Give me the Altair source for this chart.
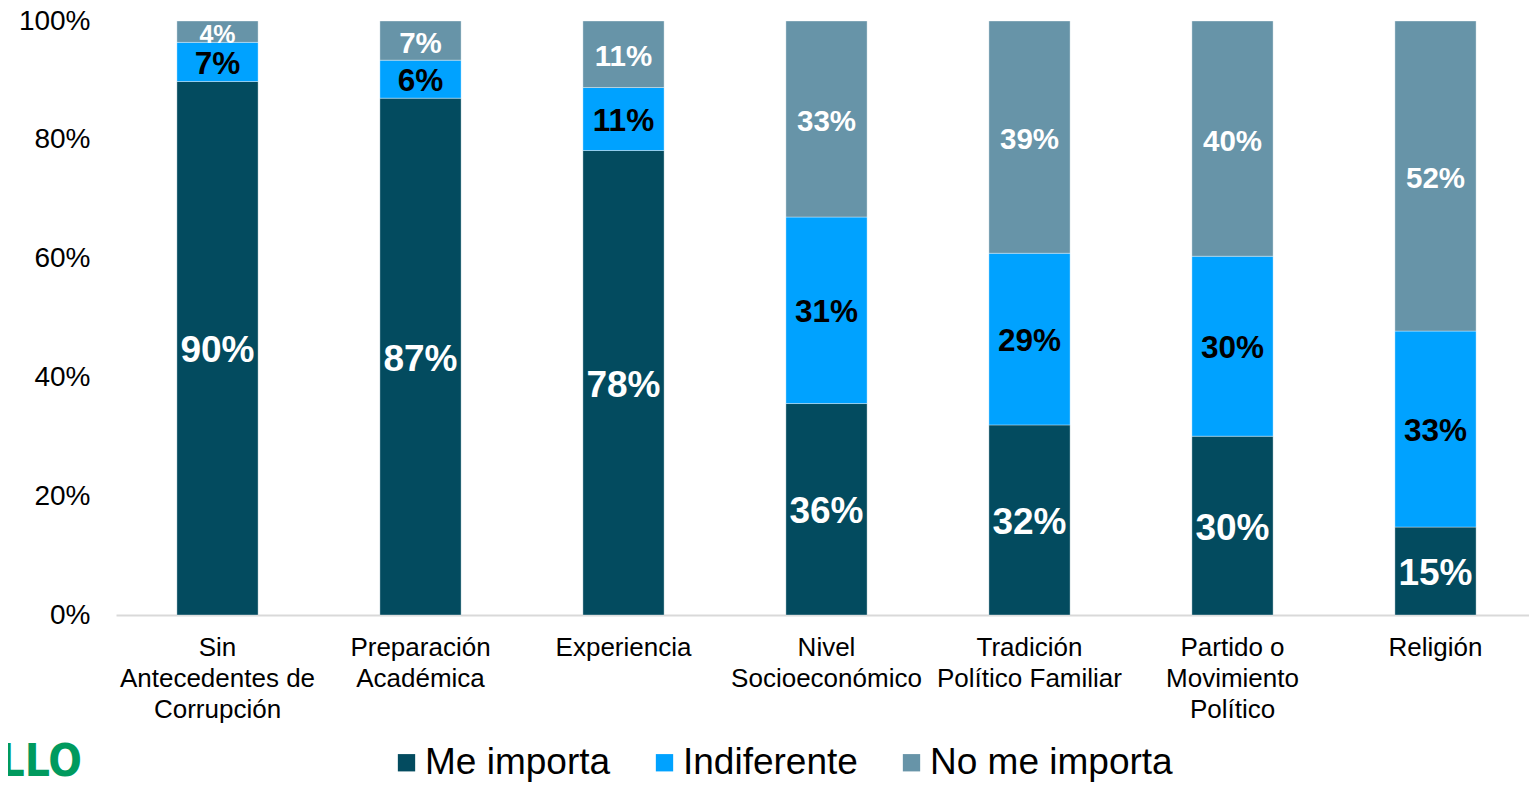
import altair as alt
import pandas as pd

categories = [
    "Sin|Antecedentes de|Corrupción",
    "Preparación|Académica",
    "Experiencia",
    "Nivel|Socioeconómico",
    "Tradición|Político Familiar",
    "Partido o|Movimiento|Político",
    "Religión",
]
series = ["Me importa", "Indiferente", "No me importa"]
me_importa = [89.9, 87.1, 78.2, 35.6, 32.0, 30.1, 14.8]
indiferente = [6.6, 6.4, 10.6, 31.4, 28.9, 30.3, 33.0]
no_me_importa = [3.6, 6.6, 11.2, 33.0, 39.1, 39.6, 52.2]
colors = ["#034b5f", "#00a2ff", "#6794a8"]

rows = []
for i, c in enumerate(categories):
    for j, (s, vals) in enumerate(zip(series, [me_importa, indiferente, no_me_importa])):
        rows.append({"cat": c, "series": s, "order": j, "value": vals[i]})
df = pd.DataFrame(rows)

FONT = "Liberation Sans"

base = alt.Chart(df).transform_stack(
    stack="value",
    groupby=["cat"],
    as_=["y0", "y1"],
    offset="normalize",
    sort=[alt.SortField("order", order="ascending")],
).transform_calculate(
    mid="(datum.y0 + datum.y1) / 2",
    lbl="format(datum.value, '.0f') + '%'",
    fs="datum.series == 'Me importa' ? 37 : (datum.series == 'Indiferente' ? 31.5 : (datum.value < 5 ? 25 : 29.5))",
)

xenc = alt.X(
    "cat:N",
    sort=categories,
    title=None,
    scale=alt.Scale(range=[0, 1421], paddingInner=0.6, paddingOuter=0.3),
    axis=alt.Axis(
        labelAngle=0,
        labelExpr="split(datum.label, '|')",
        labelFontSize=26,
        labelLineHeight=31,
        labelPadding=19,
        labelColor="#000000",
        labelFont=FONT,
        labelLimit=400,
        ticks=False,
        domainColor="#d9d9d9",
        domainWidth=2,
        grid=False,
        labelBaseline="top",
    ),
)

bars = base.mark_bar(stroke="#ffffff", strokeWidth=0.6, strokeOpacity=0.6).encode(
    x=xenc,
    y=alt.Y(
        "y0:Q",
        scale=alt.Scale(domain=[0, 1], nice=False),
        title=None,
        axis=alt.Axis(
            format=".0%",
            values=[0, 0.2, 0.4, 0.6, 0.8, 1.0],
            labelFontSize=28,
            labelPadding=26,
            labelColor="#000000",
            labelFont=FONT,
            domain=False,
            ticks=False,
            grid=False,
        ),
    ),
    y2="y1:Q",
    color=alt.Color(
        "series:N",
        scale=alt.Scale(domain=series, range=colors),
        legend=alt.Legend(
            title=None,
            orient="none",
            direction="horizontal",
            legendX=272,
            legendY=723,
            symbolType="square",
            symbolSize=300,
            symbolStrokeWidth=0,
            labelFontSize=37,
            labelFont=FONT,
            labelColor="#000000",
            labelOffset=0,
            columnPadding=35,
            labelLimit=400,
        ),
    ),
)

texts = base.mark_text(font=FONT, fontWeight="bold", baseline="middle", align="center", dy=3).encode(
    x=alt.X("cat:N", sort=categories),
    y=alt.Y("mid:Q"),
    text="lbl:N",
    size=alt.Size("fs:Q", scale=None, legend=None),
    color=alt.condition(
        "datum.series == 'Indiferente'", alt.value("#000000"), alt.value("#ffffff")
    ),
)

logo = alt.Chart(pd.DataFrame({"t": ["OLLO"]})).mark_text(
    x=-34, y=755, align="right", baseline="alphabetic",
    font="Liberation Sans Narrow, DejaVu Sans Condensed, Liberation Sans",
    fontWeight="bold", fontSize=44, color="#009a5e",
).encode(text="t:N")

chart = alt.layer(bars, texts, logo).properties(
    width=1413,
    height=594,
    autosize=alt.AutoSizeParams(type="none"),
    padding={"left": 108, "top": 13, "right": 0, "bottom": 168},
).configure(font=FONT).configure_view(stroke=None)

chart.save("out.html", embed_options={"renderer": "svg", "actions": False})
